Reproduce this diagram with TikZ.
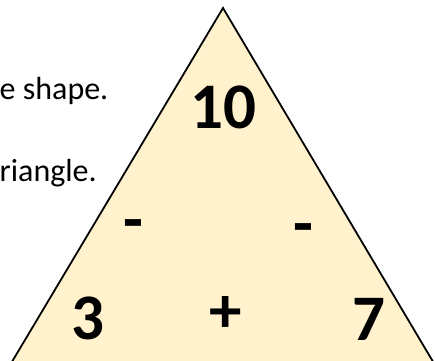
\documentclass[tikz,border=0pt]{standalone}
\usepackage{fontspec}
\setmainfont{Carlito}
\definecolor{trifill}{HTML}{FFF2CC}
\begin{document}
\begin{tikzpicture}[x=1pt,y=-1pt,
  num/.style={font=\fontsize{65}{78}\selectfont\bfseries, inner sep=0pt, anchor=center},
  lbl/.style={font=\fontsize{32}{38}\selectfont, inner sep=0pt, anchor=base west},
  tri/.style={line width=1.8pt, draw=black, fill=trifill, line join=miter}]
\useasboundingbox (0,0) rectangle (435,360);
\begin{scope}
  \clip (0,0) rectangle (435,360);
  \draw[tri] (223,8) -- (2.3,378) -- (442.7,378) -- cycle;
\end{scope}
\node[lbl] (t1) at (-0.5,99) {e shape.};
\node[lbl] (t2) at (-0.5,181) {riangle.};
\node[num] (top) at (223.5,107.5) {10};
\node[num] (ml) at (133.5,230.3) {-};
\node[num] (mr) at (303.3,234.3) {-};
\node[num] (bl) at (87.5,318.5) {3};
\node[num] (bm) at (226,314) {+};
\node[num] (br) at (369,319) {7};
\end{tikzpicture}
\end{document}
